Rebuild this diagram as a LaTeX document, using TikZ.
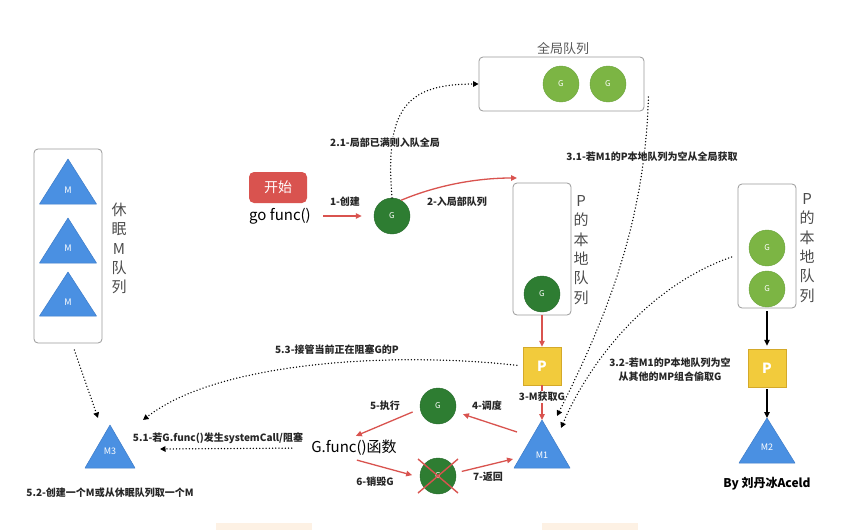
\documentclass[tikz,border=0pt]{standalone}
\usepackage{fontspec}
\setmainfont{Noto Sans CJK SC}
\usetikzlibrary{arrows.meta,calc}
\definecolor{gdk}{HTML}{2E7D32}
\definecolor{gdkb}{HTML}{24692A}
\definecolor{glt}{HTML}{7CB544}
\definecolor{gltb}{HTML}{6AA33A}
\definecolor{mblue}{HTML}{4A90E2}
\definecolor{mblueb}{HTML}{3D7CC9}
\definecolor{pyel}{HTML}{F2CB3C}
\definecolor{pyelb}{HTML}{D4A92A}
\definecolor{ared}{HTML}{D9534F}
\definecolor{boxgray}{HTML}{9A9A9A}
\definecolor{peach}{HTML}{FDF1E4}
\begin{document}
\begin{tikzpicture}[x=1pt,y=-1pt,
  qbox/.style={draw=boxgray, rounded corners=4pt, line width=0.8pt, inner sep=0pt},
  gnode/.style={circle, minimum size=36pt, inner sep=0pt, text=white, font=\fontsize{8}{8}\selectfont},
  gdark/.style={gnode, fill=gdk, draw=gdkb},
  glight/.style={gnode, fill=glt, draw=gltb},
  pbox/.style={draw=pyelb, fill=pyel, minimum size=38pt, inner sep=0pt, text=white, font=\fontsize{14}{14}\selectfont\bfseries},
  mfill/.style={fill=mblue, draw=mblueb, line width=0.5pt, line join=round},
  mlbl/.style={text=white, font=\fontsize{9}{9}\selectfont, inner sep=1pt},
  lbl/.style={font=\fontsize{10}{14}\selectfont\bfseries, text=black!85, inner sep=1pt},
  vtxt/.style={font=\fontsize{15}{19.4}\selectfont, text=black!70, align=center, inner sep=0pt},
  redarr/.style={draw=ared, line width=1.3pt, -{Triangle[length=6pt,width=5.5pt]}},
  blkarr/.style={draw=black, line width=1.3pt, -{Triangle[length=6pt,width=5.5pt]}},
  dotarr/.style={draw=black, line width=1.5pt, dash pattern=on 0pt off 3.2pt, line cap=round, -{Triangle[length=5.5pt,width=5.5pt]}},
  redx/.style={draw=ared, line width=1.4pt}
]
\fill[white] (0,0) rectangle (855,530);
\useasboundingbox (0,0) rectangle (855,530);
\fill[peach] (216,523) rectangle (312,530);
\fill[peach] (542,523) rectangle (638,530);

% global queue
\node[qbox, minimum width=165pt, minimum height=54pt] (gq) at (561.5,84) {};
\node[font=\fontsize{13}{13}\selectfont, text=black!65] (gqt) at (563,49) {全局队列};
\node[glight] (gq1) at (561,84) {G};
\node[glight] (gq2) at (608,84) {G};

% start
\node[fill=ared, rounded corners=5pt, minimum width=58pt, minimum height=31pt, text=white, font=\fontsize{14}{14}\selectfont] (start) at (278,187.5) {开始};
\node[font=\fontsize{15}{15}\selectfont] (gofunc) at (280,216) {go func()};
\node[gdark] (G1) at (392,216) {G};
\draw[redarr, shorten <=9pt, shorten >=12pt] (gofunc.east |- G1) -- (G1.west);
\node[lbl] (l1) at (345,202) {1-创建};

% middle local queue
\node[qbox, minimum width=58pt, minimum height=132pt] (lq) at (542,249) {};
\node[gdark] (G2) at (542,294) {G};
\node[vtxt] (lqt) at (581,250) {P\\的\\本\\地\\队\\列};
\coordinate (lqin) at (517,178);

% 2.1 dotted and 2 red
\draw[dotarr] (G1.north) .. controls (385,110) and (405,84) .. (gq.west);
\node[lbl, fill=white] (l21) at (385,143) {2.1-局部已满则入队全局};
\draw[redarr] (G1.60) .. controls (440,184) and (480,178) .. (lqin);
\node[lbl] (l2) at (457,202) {2-入局部队列};

% P1 and M1
\node[pbox] (P1) at (542,366) {P};
\draw[redarr] (lq.south) -- (P1.north);
\fill[mfill] (514,468) -- (542,420) -- (570,468) -- cycle;
\coordinate (M1top) at (542,420);
\node[mlbl] (M1) at (542,455) {M1};
\draw[redarr] (P1.south) -- (M1top);
\node[lbl, fill=white] (l3) at (542,397) {3-M获取G};

% right queue
\node[qbox, minimum width=58pt, minimum height=124pt] (rq) at (767,246) {};
\node[glight] (G3) at (767,248) {G};
\node[glight] (G4) at (767,289) {G};
\node[vtxt] (rqt) at (807,248) {P\\的\\本\\地\\队\\列};
\node[pbox] (P2) at (767,368) {P};
\draw[blkarr, shorten <=3pt, shorten >=3pt] (rq.south) -- (P2.north);
\fill[mfill] (739,463) -- (767,418) -- (795,463) -- cycle;
\coordinate (M2top) at (767,418);
\node[mlbl] (M2) at (767,447) {M2};
\draw[blkarr, shorten <=2pt] (P2.south) -- (M2top);
\node[font=\fontsize{12}{12}\selectfont\bfseries] (by) at (767,484) {By 刘丹冰Aceld};

% sleeping M queue
\node[qbox, minimum width=68pt, minimum height=194pt] (sq) at (68,246) {};
\fill[mfill] (39.5,204) -- (68,159) -- (96.5,204) -- cycle;
\fill[mfill] (39.5,263) -- (68,218) -- (96.5,263) -- cycle;
\fill[mfill] (39.5,316) -- (68,272) -- (96.5,316) -- cycle;
\node[mlbl] (sm1) at (68,190) {M};
\node[mlbl] (sm2) at (68,248) {M};
\node[mlbl] (sm3) at (68,302) {M};
\node[vtxt] (sqt) at (119,248.5) {休\\眠\\M\\队\\列};

% M3
\fill[mfill] (85,468) -- (110,425) -- (135,468) -- cycle;
\coordinate (M3top) at (110,425);
\node[mlbl] (M3) at (110,451) {M3};
\draw[dotarr, shorten <=7pt] ($(sq.south)+(4,0)$) -- ($(M3top)+(-12,-7)$);
\node[lbl] (l52) at (110,493) {5.2-创建一个M或从休眠队列取一个M};

% 5.3
\draw[dotarr, shorten <=6pt] (P1.west) .. controls (400,352) and (220,360) .. ($(M3top)+(33,-5)$);
\node[lbl] (l53) at (337,350) {5.3-接管当前正在阻塞G的P};

% G.func
\node[font=\fontsize{15}{15}\selectfont] (gfunc) at (354,448) {G.func()函数};
\draw[dotarr, shorten <=16pt] (gfunc.west) -- ($(M3top)+(50,24)$);
\node[lbl] (l51) at (218,438) {5.1-若G.func()发生systemCall/阻塞};

% G5, G6
\node[gdark] (G5) at (438,406) {G};
\node[gdark] (G6) at (438,476) {G};
\draw[redx] ($(G6)+(-20,-17)$) -- ($(G6)+(20,17)$);
\draw[redx] ($(G6)+(20,-17)$) -- ($(G6)+(-20,17)$);

\coordinate (m1a) at ($(M1top)+(-25,12)$);
\coordinate (m1b) at ($(M1top)+(-29,39)$);
\draw[redarr, shorten >=8pt] (m1a) -- (G5);
\node[lbl] (l4) at (487,406) {4-调度};
\draw[redarr, shorten <=8pt, shorten >=2pt] (G5.189) -- (gfunc.north);
\node[lbl] (l5) at (385,406) {5-执行};
\draw[redarr, shorten <=3pt, shorten >=8pt] (gfunc.south) -- (G6.184);
\node[lbl] (l6) at (375,482) {6-销毁G};
\draw[redarr, shorten <=6pt] (G6.10) -- (m1b);
\node[lbl] (l7) at (488,477) {7-返回};

% 3.1 and 3.2
\draw[dotarr] ($(gq.east)+(4,13)$) .. controls (645,230) and (600,330) .. ($(M1top)+(15,-4)$);
\node[lbl, fill=white] (l31) at (652,157) {3.1-若M1的P本地队列为空从全局获取};
\draw[dotarr] ($(rq.west)+(-6,11)$) .. controls (650,285) and (590,360) .. ($(M1top)+(19,8)$);
\node[lbl, align=center] (l32) at (670,370) {3.2-若M1的P本地队列为空\\从其他的MP组合偷取G};
\end{tikzpicture}
\end{document}
